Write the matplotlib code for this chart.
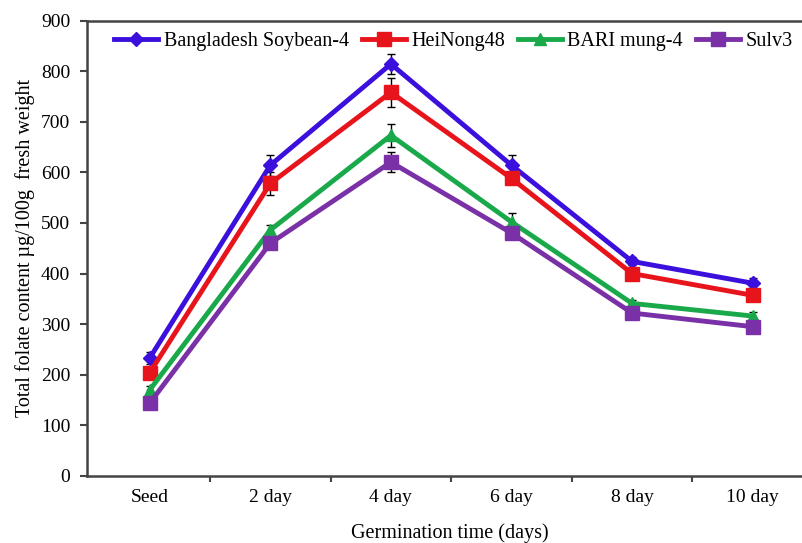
import matplotlib
matplotlib.use("Agg")
import matplotlib.pyplot as plt
import numpy as np

categories = ["Seed", "2 day", "4 day", "6 day", "8 day", "10 day"]
series_names = ["Bangladesh Soybean-4", "HeiNong48", "BARI mung-4", "Sulv3"]
soybean = [233, 614, 814, 614, 424, 381]
heinong = [204, 578, 758, 588, 400, 357]
bari = [170, 486, 673, 502, 341, 316]
sulv = [144, 460, 620, 480, 322, 295]
soybean_err = [12, 21, 20, 21, 8, 10]
heinong_err = [10, 23, 29, 12, 8, 10]
bari_err = [8, 10, 22, 18, 7, 8]
sulv_err = [8, 10, 20, 10, 8, 8]
yticks = [0, 100, 200, 300, 400, 500, 600, 700, 800, 900]

plt.rcParams['font.family'] = ['Liberation Serif', 'DejaVu Serif']

fig = plt.figure(figsize=(8.02, 5.43), dpi=100)
ax = fig.add_axes([87/802, 67/543, 726/802, 455.5/543])

x = np.arange(len(categories))
styles = [
    (soybean, soybean_err, "#3b10dd", "D", 7.5),
    (heinong, heinong_err, "#e8141c", "s", 10),
    (bari, bari_err, "#19a94a", "^", 9),
    (sulv, sulv_err, "#7a30a6", "s", 10),
]
for (vals, errs, col, mk, ms), name in zip(styles, series_names):
    ax.errorbar(x, vals, yerr=errs, fmt='none', ecolor='black', elinewidth=1.0,
                capsize=3, capthick=1.0, zorder=2)
    ax.plot(x, vals, color=col, lw=3.5, marker=mk, ms=ms, mec=col, mfc=col,
            label=name, zorder=3)

ax.set_xlim(-0.52, 5.5)
ax.set_ylim(0, 900)
ax.set_yticks(yticks)
ax.set_xticks(x)
ax.set_xticklabels(categories, fontsize=14)
ax.tick_params(axis='x', length=0, pad=9)
ax.set_xticks(np.arange(0.5, 5.5, 1), minor=True)
ax.tick_params(axis='x', which='minor', direction='out', length=4, width=1.5, color='#444444')
ax.tick_params(axis='y', direction='out', length=5, width=1.5, color='#444444', labelsize=14, pad=7)
for s in ['left', 'bottom', 'top']:
    ax.spines[s].set_linewidth(1.8)
    ax.spines[s].set_color('#444444')
ax.spines['right'].set_visible(False)

ax.set_xlabel("Germination time (days)", fontsize=14.5, labelpad=13)
ax.set_ylabel("Total folate content µg/100g  fresh weight", fontsize=14.5, labelpad=4)

leg = ax.legend(loc='upper left', bbox_to_anchor=(0.018, 1.005), ncol=4, frameon=False,
                fontsize=14.5, handlelength=2.2, handletextpad=0.25, columnspacing=0.65,
                borderaxespad=0.3)

fig.savefig("out.png", dpi=100)
